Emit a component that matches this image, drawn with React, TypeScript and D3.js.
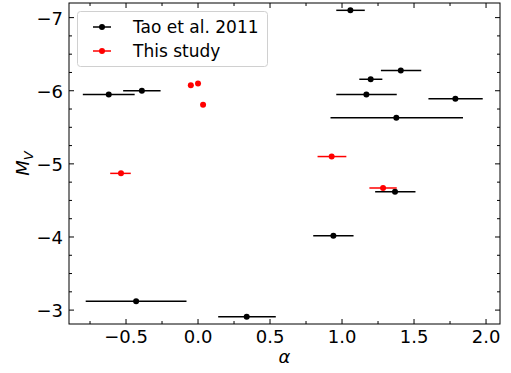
import React, { useEffect, useRef } from "react"
import * as d3 from "d3"

// Tao et al. 2011 (black)
const taoAlpha = [-0.62, -0.39, 1.058, 1.408, 1.199, 1.169, 1.787, 1.377, 1.368, 0.94, -0.43, 0.338]
const taoMv = [-5.95, -6.0, -7.1, -6.276, -6.157, -5.948, -5.89, -5.63, -4.62, -4.016, -3.12, -2.91]
const taoLo = [-0.8, -0.52, 0.96, 1.27, 1.12, 0.96, 1.6, 0.92, 1.23, 0.8, -0.78, 0.14]
const taoHi = [-0.44, -0.26, 1.158, 1.55, 1.28, 1.38, 1.977, 1.84, 1.51, 1.08, -0.08, 0.54]

// This study (red)
const ourAlpha = [-0.05, 0.0, 0.035, -0.535, 0.928, 1.285]
const ourMv = [-6.075, -6.098, -5.81, -4.87, -5.1, -4.67]
const ourLo = [-0.06, -0.01, 0.025, -0.61, 0.83, 1.19]
const ourHi = [-0.04, 0.01, 0.045, -0.467, 1.03, 1.38]

const xTicks = [-0.5, 0.0, 0.5, 1.0, 1.5, 2.0]
const yTicks = [-7, -6, -5, -4, -3]

const legendLabels = ["Tao et al. 2011", "This study"]
const seriesColors = ["#000000", "#ff0000"]

export default function App() {
    const ref = useRef<SVGSVGElement>(null)

    useEffect(() => {
        if (!ref.current) return
        const svg = d3.select(ref.current)
        svg.selectAll("*").remove()

        const width = 511
        const height = 373
        const margin = { top: 3, right: 11, bottom: 49, left: 69 }
        const font = "DejaVu Sans, sans-serif"

        const x = d3.scaleLinear().domain([-0.896, 2.097]).range([margin.left, width - margin.right])
        const y = d3.scaleLinear().domain([-7.2, -2.81]).range([margin.top, height - margin.bottom])

        const x0 = margin.left
        const x1 = width - margin.right
        const y0 = margin.top
        const y1 = height - margin.bottom

        // minor + major ticks, inward on all four sides
        const xMinor = d3.range(-0.75, 2.1, 0.25).filter((v) => !xTicks.some((t) => Math.abs(t - v) < 1e-6))
        const yMinor = d3.range(-7.25, -2.7, 0.25).filter((v) => v > -7.2 && v < -2.81 && !yTicks.some((t) => Math.abs(t - v) < 1e-6))

        const tickG = svg.append("g").attr("stroke", "#000").attr("stroke-width", 1)
        const drawX = (vals: number[], len: number) => {
            vals.forEach((v) => {
                tickG.append("line").attr("x1", x(v)).attr("x2", x(v)).attr("y1", y1).attr("y2", y1 - len)
                tickG.append("line").attr("x1", x(v)).attr("x2", x(v)).attr("y1", y0).attr("y2", y0 + len)
            })
        }
        const drawY = (vals: number[], len: number) => {
            vals.forEach((v) => {
                tickG.append("line").attr("y1", y(v)).attr("y2", y(v)).attr("x1", x0).attr("x2", x0 + len)
                tickG.append("line").attr("y1", y(v)).attr("y2", y(v)).attr("x1", x1).attr("x2", x1 - len)
            })
        }
        drawX(xTicks, 5)
        drawX(xMinor, 3)
        drawY(yTicks, 5)
        drawY(yMinor, 3)

        const fmtX = (v: number) => v.toFixed(1).replace("-", "\u2212")
        const fmtY = (v: number) => String(v).replace("-", "\u2212")

        svg.append("g")
            .selectAll("text")
            .data(xTicks)
            .join("text")
            .attr("x", (d) => x(d))
            .attr("y", y1 + 19)
            .attr("text-anchor", "middle")
            .style("font-family", font)
            .style("font-size", "18px")
            .text(fmtX)

        svg.append("g")
            .selectAll("text")
            .data(yTicks)
            .join("text")
            .attr("x", x0 - 6)
            .attr("y", (d) => y(d) + 7)
            .attr("text-anchor", "end")
            .style("font-family", font)
            .style("font-size", "18px")
            .text(fmtY)

        // axis labels
        svg.append("text")
            .attr("x", (x0 + x1) / 2)
            .attr("y", 363)
            .attr("text-anchor", "middle")
            .style("font-family", font)
            .style("font-size", "18px")
            .style("font-style", "italic")
            .text("α")

        const yl = svg.append("text")
            .attr("transform", `translate(29, ${(y0 + y1) / 2}) rotate(-90)`)
            .attr("text-anchor", "middle")
            .style("font-family", font)
            .style("font-size", "18px")
            .style("font-style", "italic")
        yl.append("tspan").text("M")
        yl.append("tspan").attr("dy", 4).style("font-size", "13px").text("V")

        // data
        const series = [
            { alpha: taoAlpha, mv: taoMv, lo: taoLo, hi: taoHi, color: seriesColors[0] },
            { alpha: ourAlpha, mv: ourMv, lo: ourLo, hi: ourHi, color: seriesColors[1] },
        ]
        series.forEach((s) => {
            const g = svg.append("g")
            s.alpha.forEach((a, i) => {
                g.append("line")
                    .attr("x1", x(s.lo[i]))
                    .attr("x2", x(s.hi[i]))
                    .attr("y1", y(s.mv[i]))
                    .attr("y2", y(s.mv[i]))
                    .attr("stroke", s.color)
                    .attr("stroke-width", 1.5)
                g.append("circle").attr("cx", x(a)).attr("cy", y(s.mv[i])).attr("r", 3).attr("fill", s.color)
            })
        })

        // frame
        svg.append("rect")
            .attr("x", x0)
            .attr("y", y0)
            .attr("width", x1 - x0)
            .attr("height", y1 - y0)
            .attr("fill", "none")
            .attr("stroke", "#000")
            .attr("stroke-width", 1)

        // legend
        const lg = svg.append("g")
        lg.append("rect")
            .attr("x", 77.5)
            .attr("y", 11.5)
            .attr("width", 190)
            .attr("height", 55)
            .attr("rx", 3)
            .attr("fill", "#fff")
            .attr("fill-opacity", 0.8)
            .attr("stroke", "#d0d0d0")
        legendLabels.forEach((label, i) => {
            const cy = 27 + i * 24
            lg.append("line").attr("x1", 93).attr("x2", 111).attr("y1", cy).attr("y2", cy).attr("stroke", seriesColors[i]).attr("stroke-width", 1.5)
            lg.append("circle").attr("cx", 102).attr("cy", cy).attr("r", 3).attr("fill", seriesColors[i])
            lg.append("text")
                .attr("x", 133)
                .attr("y", cy + 6)
                .style("font-family", font)
                .style("font-size", "17px")
                .text(label)
        })
    }, [])

    return (
        <div style={{ position: "fixed", left: 0, top: 0 }}>
            <svg ref={ref} width={511} height={373} style={{ display: "block", background: "#fff" }} />
        </div>
    )
}
